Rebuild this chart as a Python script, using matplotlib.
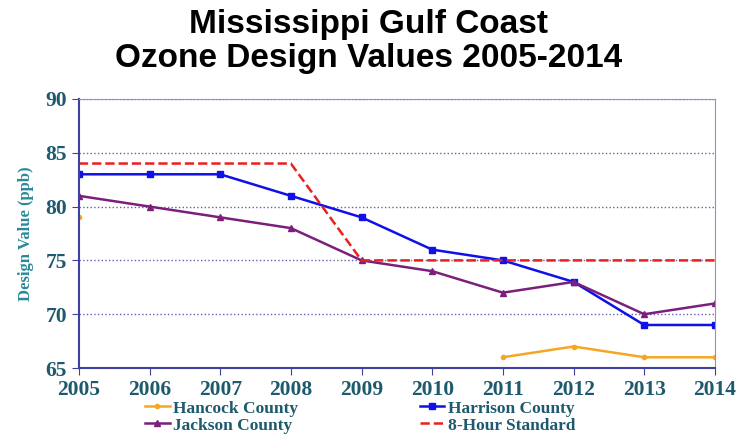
import matplotlib.pyplot as plt
import numpy as np

years = list(range(2005, 2015))
hancock = [79, np.nan, np.nan, np.nan, np.nan, np.nan, 66, 67, 66, 66]
harrison = [83, 83, 83, 81, 79, 76, 75, 73, 69, 69]
jackson = [81, 80, 79, 78, 75, 74, 72, 73, 70, 71]
standard = [84, 84, 84, 84, 75, 75, 75, 75, 75, 75]

fig = plt.figure(figsize=(7.37, 4.34), dpi=100)
ax = fig.add_axes([0.107, 0.152, 0.863, 0.62])

h1, = ax.plot(years, hancock, color='#F5A623', marker='o', markersize=3, lw=1.8, label='Hancock County')
h2, = ax.plot(years, harrison, color='#1010E8', marker='s', markersize=5, lw=1.8, label='Harrison County')
h3, = ax.plot(years, jackson, color='#7B1F7B', marker='^', markersize=4, lw=1.8, label='Jackson County')
h4, = ax.plot(years, standard, color='#E8201E', ls='--', lw=1.8, label='8-Hour Standard')

ax.set_xlim(2005, 2014)
ax.set_ylim(65, 90)
ax.set_xticks(years)
ax.set_yticks(range(65, 91, 5))
ax.grid(axis='y', color='#6060B0', ls=':', lw=1)
for s in ax.spines.values():
    s.set_color('#9090D0')
ax.spines['left'].set_color('#4040A0')
ax.spines['bottom'].set_color('#4040A0')
ax.spines['left'].set_linewidth(1.5)
ax.spines['bottom'].set_linewidth(1.5)
ax.tick_params(colors='#4040A0', labelcolor='#1E5A6E', length=5)

for lab in ax.get_xticklabels() + ax.get_yticklabels():
    lab.set_family('Liberation Serif')
    lab.set_weight('bold')
    lab.set_fontsize(15.5)

ax.set_ylabel('Design Value (ppb)', family='Liberation Serif', weight='bold',
              fontsize=12, color='#2A8A9A', labelpad=8)

fig.suptitle('Mississippi Gulf Coast\nOzone Design Values 2005-2014', family='Liberation Sans',
             weight='bold', fontsize=24, y=0.98, linespacing=1.12)

leg = fig.legend([h1, h3, h2, h4], ['Hancock County', 'Jackson County', 'Harrison County', '8-Hour Standard'],
                 ncol=2, loc='lower left', bbox_to_anchor=(0.176, -0.035), frameon=False,
                 columnspacing=7.0, handlelength=1.4, handletextpad=0.2, labelspacing=0.05,
                 prop={'family': 'Liberation Serif', 'weight': 'bold', 'size': 12.5})
for t in leg.get_texts():
    t.set_color('#1E5A6E')

fig.savefig('out.png')
